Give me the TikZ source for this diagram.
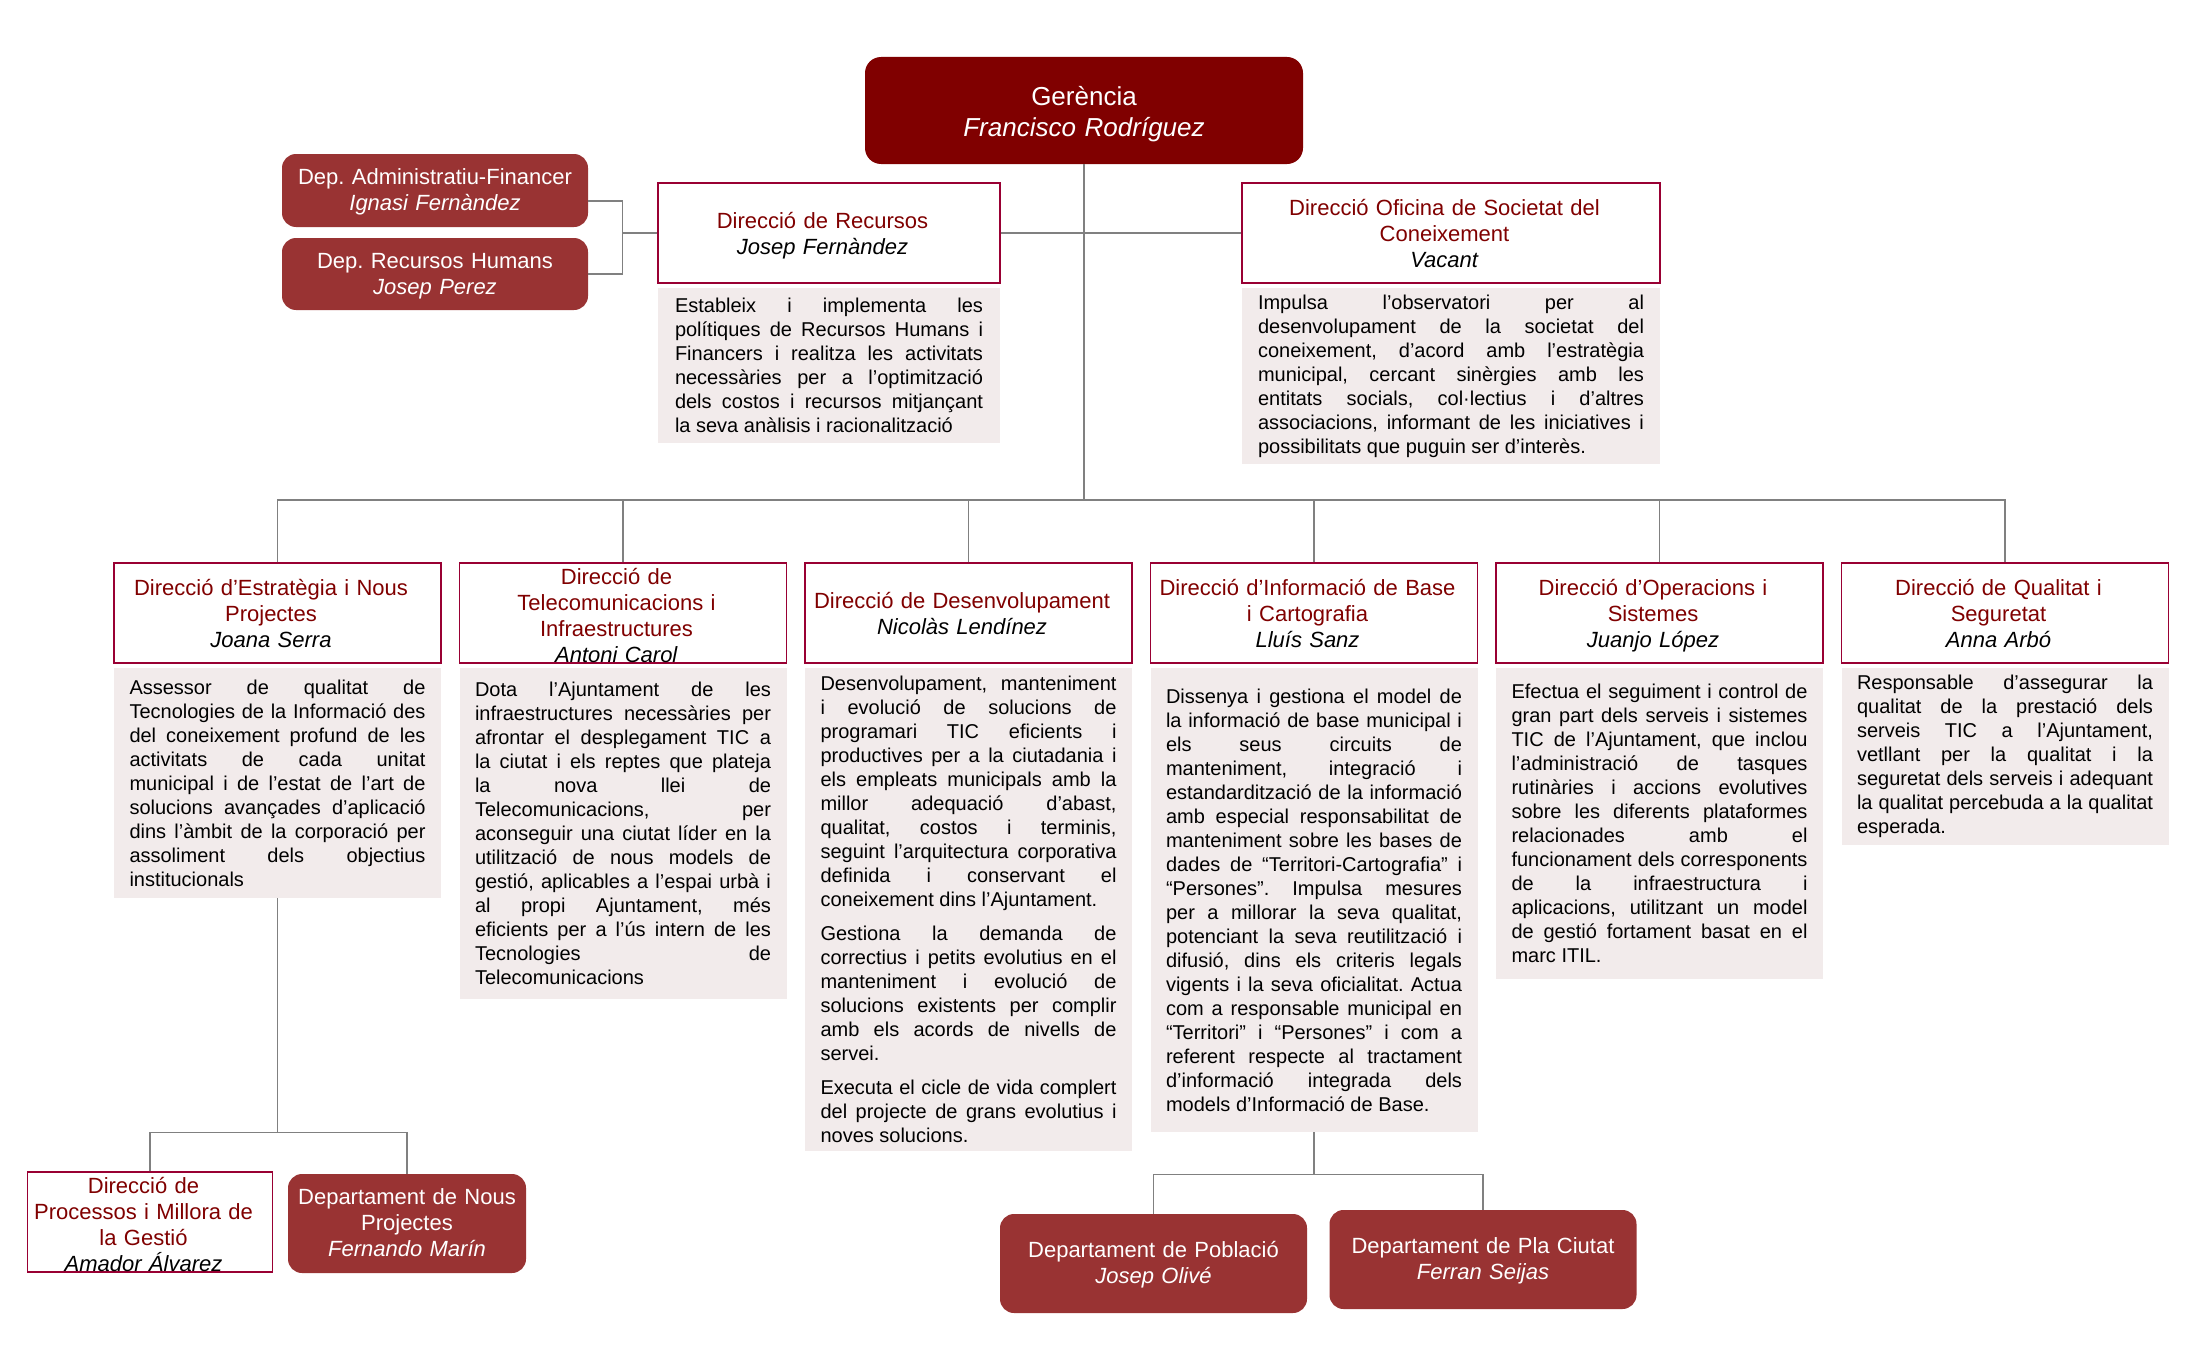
\documentclass[tikz,border=0pt]{standalone}
\usepackage{fontspec}
\setmainfont{Liberation Sans}
\usepackage{tikz}
\usetikzlibrary{positioning}
\usepackage{xcolor}

\definecolor{gerred}{RGB}{128,0,0}
\definecolor{depred}{RGB}{153,51,51}
\definecolor{dirline}{RGB}{153,0,51}
\definecolor{descfill}{RGB}{242,235,235}
\definecolor{linegray}{RGB}{128,128,128}

\newcommand{\persona}[1]{\textcolor{black}{\textit{#1}}}
\newcommand{\salt}{\linebreak}
\newcommand{\dirskips}{\leftskip=0pt plus 1fil\rightskip=6.5pt plus 1fil\parfillskip=0pt}
\pretolerance=10000 \tolerance=10000 \hbadness=10000 \hyphenpenalty=10000
\frenchspacing

\begin{document}
\begin{tikzpicture}[
    x=0.5pt, y=-0.5pt,
    node distance=2pt,
    ger/.style={fill=gerred, rounded corners=8pt, text=white, font=\fontsize{13}{15.5}\selectfont, align=center, inner sep=0pt, text width=219pt, minimum height=53.5pt,
        execute at begin node={\rule[-2.8pt]{0pt}{16.3pt}}, execute at end node={\rule[-2.8pt]{0pt}{2.8pt}}},
    dep/.style={fill=depred, rounded corners=7pt, text=white, font=\fontsize{11}{13}\selectfont, align=center, inner sep=0pt,
        execute at begin node={\rule[-2.4pt]{0pt}{12pt}}, execute at end node={\rule[-2.4pt]{0pt}{2.4pt}}},
    dirbox/.style={draw=dirline, line width=0.6pt, fill=white, text=gerred, font=\fontsize{11}{13}\selectfont, align=center, inner sep=0pt, text width=163.5pt, minimum height=50pt},
    dir/.style={dirbox, execute at begin node={\dirskips\rule[-2.3pt]{0pt}{13.4pt}}, execute at end node={\rule[-2.3pt]{0pt}{2.3pt}}},
    dir4/.style={dirbox, execute at begin node={\dirskips\rule[-2.3pt]{0pt}{12.7pt}}},
    desc/.style={fill=descfill, font=\fontsize{10}{12}\selectfont, text width=148pt, align=justify, inner xsep=7.75pt, inner ysep=0pt, execute at begin node=\setlength{\parindent}{0pt}},
    conn/.style={draw=linegray, line width=0.7pt},
]
\useasboundingbox (0,0) rectangle (2194,1359);

% Gerencia
\node[ger] (ger) at (1084,110.5) {Gerència\\\textit{Francisco Rodríguez}};

% departaments de recursos
\node[dep, text width=153pt, minimum height=36.5pt] (depaf) at (435,190.5) {Dep. Administratiu-Financer\\\textit{Ignasi Fernàndez}};
\node[dep, text width=153pt, minimum height=36pt] (deprh) at (435,274) {Dep. Recursos Humans\\\textit{Josep Perez}};

% direccions de staff
\node[dir, text width=171pt] (drec) at (829,233) {Direcció de Recursos\\\persona{Josep Fernàndez}};
\node[desc, text width=154pt, inner xsep=8.5pt, minimum height=77.5pt, below=of drec] (drecd) {Estableix i implementa les\salt polítiques de Recursos Humans i\salt Financers i realitza les activitats\salt necessàries per a l’optimització\salt dels costos i recursos mitjançant\salt la seva anàlisis i racionalització};

\node[dir, text width=209pt] (dosc) at (1451,233) {Direcció Oficina de Societat del\\Coneixement\\\persona{Vacant}};
\node[desc, text width=193pt, inner xsep=8pt, minimum height=88pt, below=of dosc] (doscd) {Impulsa l’observatori per al\salt desenvolupament de la societat del\salt coneixement, d’acord amb l’estratègia\salt municipal, cercant sinèrgies amb les\salt entitats socials, col·lectius i d’altres\salt associacions, informant de les iniciatives i\salt possibilitats que puguin ser d’interès.};

% direccions
\node[dir] (eni) at (277.5,613) {Direcció d’Estratègia i Nous\\Projectes\\\persona{Joana Serra}};
\node[desc, minimum height=115pt, below=of eni] (enid) {Assessor de qualitat de\salt Tecnologies de la Informació des\salt del coneixement profund de les\salt activitats de cada unitat\salt municipal i de l’estat de l’art de\salt solucions avançades d’aplicació\salt dins l’àmbit de la corporació per\salt assoliment dels objectius\salt institucionals};

\node[dir4] (tel) at (623,613) {Direcció de\\Telecomunicacions i\\Infraestructures\\\persona{Antoni Carol}};
\node[desc, minimum height=165.5pt, below=of tel] (teld) {Dota l’Ajuntament de les\salt infraestructures necessàries per\salt afrontar el desplegament TIC a\salt la ciutat i els reptes que plateja\salt la nova llei de\salt Telecomunicacions, per\salt aconseguir una ciutat líder en la\salt utilització de nous models de\salt gestió, aplicables a l’espai urbà i\salt al propi Ajuntament, més\salt eficients per a l’ús intern de les\salt Tecnologies de\salt Telecomunicacions};

\node[dir] (des) at (968.5,613) {Direcció de Desenvolupament\\\persona{Nicolàs Lendínez}};
\node[desc, minimum height=241.5pt, below=of des] (desd) {Desenvolupament, manteniment\salt i evolució de solucions de\salt programari TIC eficients i\salt productives per a la ciutadania i\salt els empleats municipals amb la\salt millor adequació d’abast,\salt qualitat, costos i terminis,\salt seguint l’arquitectura corporativa\salt definida i conservant el\salt coneixement dins l’Ajuntament.\par\vspace{5pt}
Gestiona la demanda de\salt correctius i petits evolutius en el\salt manteniment i evolució de\salt solucions existents per complir\salt amb els acords de nivells de\salt servei.\par\vspace{5pt}
Executa el cicle de vida complert\salt del projecte de grans evolutius i\salt noves solucions.};

\node[dir] (inf) at (1314,613) {Direcció d’Informació de Base\\i Cartografia\\\persona{Lluís Sanz}};
\node[desc, minimum height=232pt, below=of inf] (infd) {Dissenya i gestiona el model de\salt la informació de base municipal i\salt els seus circuits de\salt manteniment, integració i\salt estandardització de la informació\salt amb especial responsabilitat de\salt manteniment sobre les bases de\salt dades de “Territori-Cartografia” i\salt “Persones”. Impulsa mesures\salt per a millorar la seva qualitat,\salt potenciant la seva reutilització i\salt difusió, dins els criteris legals\salt vigents i la seva oficialitat. Actua\salt com a responsable municipal en\salt “Territori” i “Persones” i com a\salt referent respecte al tractament\salt d’informació integrada dels\salt models d’Informació de Base.};

\node[dir] (ope) at (1659.5,613) {Direcció d’Operacions i\\Sistemes\\\persona{Juanjo López}};
\node[desc, minimum height=155.5pt, below=of ope] (oped) {Efectua el seguiment i control de\salt gran part dels serveis i sistemes\salt TIC de l’Ajuntament, que inclou\salt l’administració de tasques\salt rutinàries i accions evolutives\salt sobre les diferents plataformes\salt relacionades amb el\salt funcionament dels corresponents\salt de la infraestructura i\salt aplicacions, utilitzant un model\salt de gestió fortament basat en el\salt marc ITIL.};

\node[dir] (qua) at (2005,613) {Direcció de Qualitat i\\Seguretat\\\persona{Anna Arbó}};
\node[desc, minimum height=88.5pt, below=of qua] (quad) {Responsable d’assegurar la\salt qualitat de la prestació dels\salt serveis TIC a l’Ajuntament,\salt vetllant per la qualitat i la\salt seguretat dels serveis i adequant\salt la qualitat percebuda a la qualitat\salt esperada.};

% unitats inferiors
\node[dir4, text width=122.5pt] (pro) at (150,1222) {Direcció de\\Processos i Millora de\\la Gestió\\\persona{Amador Álvarez}};
\node[dep, text width=119pt, minimum height=49.5pt] (nou) at (407,1223.5) {Departament de Nous\\Projectes\\\textit{Fernando Marín}};
\node[dep, text width=153.5pt, minimum height=49.5pt] (pob) at (1153.5,1263.5) {Departament de Població\\\textit{Josep Olivé}};
\node[dep, text width=153.5pt, minimum height=49.5pt] (pla) at (1483,1259.5) {Departament de Pla Ciutat\\\textit{Ferran Seijas}};

% connectors
\coordinate (hub) at (1084,500);
\draw[conn] (ger.south) -- (hub);
\draw[conn] (drec.east) -- (drec.east -| hub);
\draw[conn] (dosc.west) -- (dosc.west -| hub);
\draw[conn] (eni.north) |- (hub) -| (qua.north);
\foreach \b in {tel,des,inf,ope}
    \draw[conn] (\b.north) -- (\b.north |- hub);

\coordinate (jrec) at ([xshift=-17.5pt]drec.west);
\draw[conn] (drec.west) -- (jrec);
\draw[conn] ([yshift=-5.25pt]depaf.east) -| (jrec);
\draw[conn] (deprh.east) -| (jrec);

\draw[conn] (enid.south) -- ++(0,234) coordinate (jeni);
\draw[conn] (pro.north) |- (jeni) -| (nou.north);

\draw[conn] (infd.south) -- ++(0,42) coordinate (jinf);
\draw[conn] (pob.north) |- (jinf) -| (pla.north);

\end{tikzpicture}
\end{document}
